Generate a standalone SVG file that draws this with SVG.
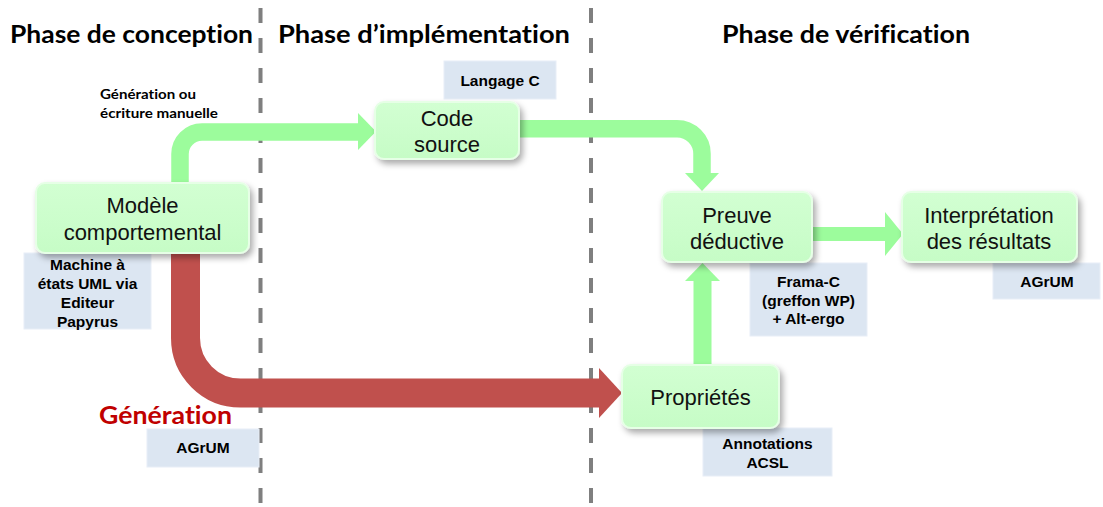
<svg xmlns="http://www.w3.org/2000/svg" width="1103" height="507" viewBox="0 0 1103 507">
  <defs>
    <filter id="shadow" x="-20%" y="-20%" width="150%" height="160%">
      <feDropShadow dx="3" dy="4" stdDeviation="3" flood-color="#000" flood-opacity="0.33"/>
    </filter>
    <linearGradient id="nodeGrad" x1="0" y1="0" x2="0" y2="1">
      <stop offset="0" stop-color="#d2ffd2"/>
      <stop offset="1" stop-color="#c6fcc6"/>
    </linearGradient>
  </defs>
  <style>
    text { font-variant-ligatures: none; font-feature-settings: "liga" 0; }
    .title { font-family: Lato, "Open Sans", sans-serif; font-weight: 700; font-size: 25px; fill: #000; }
    .divider { stroke: #7f7f7f; stroke-width: 4; stroke-dasharray: 15 15; fill: none; }
    .node rect { fill: url(#nodeGrad); stroke: #e6ffe6; stroke-width: 2; filter: url(#shadow); }
    .node text { font-family: "Liberation Sans", Arial, sans-serif; font-size: 22px; fill: #111; text-anchor: middle; }
    .tag rect { fill: #dce6f2; stroke: #e8eef7; stroke-width: 1; }
    .tag text { font-family: "Liberation Sans", Arial, sans-serif; font-weight: 700; font-size: 15.5px; fill: #000; text-anchor: middle; }
    .green { stroke: #9cfc9c; fill: none; }
    .greenHead { fill: #9cfc9c; }
    .red { stroke: #c0504d; fill: none; stroke-width: 29; }
    .redHead { fill: #c0504d; }
    .note { font-family: Lato, "Open Sans", sans-serif; font-weight: 700; font-size: 14px; fill: #000; }
    .gen { font-family: Lato, "Open Sans", sans-serif; font-weight: 700; font-size: 24px; fill: #c00000; }
  </style>

  <rect x="0" y="0" width="1103" height="507" fill="#ffffff"/>

  <!-- phase titles -->
  <g id="titles">
    <text class="title" x="10" y="43" textLength="243" lengthAdjust="spacingAndGlyphs">Phase de conception</text>
    <text class="title" x="278" y="43" textLength="292" lengthAdjust="spacingAndGlyphs">Phase d’implémentation</text>
    <text class="title" x="722" y="43" textLength="248" lengthAdjust="spacingAndGlyphs">Phase de vérification</text>
  </g>

  <!-- phase dividers -->
  <g id="dividers">
    <line class="divider" x1="260.5" y1="8" x2="260.5" y2="507"/>
    <line class="divider" x1="591" y1="8" x2="591" y2="507"/>
  </g>

  <!-- tool labels -->
  <g id="tag-machine" class="tag">
    <rect x="24" y="253" width="127" height="76"/>
    <text x="87.5" y="270">Machine à</text>
    <text x="87.5" y="289">états UML via</text>
    <text x="87.5" y="308">Editeur</text>
    <text x="87.5" y="327">Papyrus</text>
  </g>
  <g id="tag-langage" class="tag">
    <rect x="444" y="61" width="112" height="38"/>
    <text x="500" y="86">Langage C</text>
  </g>
  <g id="tag-frama" class="tag">
    <rect x="750" y="263" width="117" height="73"/>
    <text x="808.5" y="287">Frama-C</text>
    <text x="808.5" y="306">(greffon WP)</text>
    <text x="808.5" y="324">+ Alt-ergo</text>
  </g>
  <g id="tag-agrum-right" class="tag">
    <rect x="993" y="263" width="107" height="36"/>
    <text x="1047" y="287">AGrUM</text>
  </g>
  <g id="tag-agrum-left" class="tag">
    <rect x="147" y="429" width="112" height="38"/>
    <text x="203" y="453">AGrUM</text>
  </g>
  <g id="tag-annotations" class="tag">
    <rect x="703" y="428" width="129" height="48"/>
    <text x="767.5" y="449">Annotations</text>
    <text x="767.5" y="468">ACSL</text>
  </g>

  <!-- connectors -->
  <g id="connectors">
    <g id="edge-modele-code">
      <path class="green" stroke-width="17.5" d="M180,188 V154 A22,22 0 0 1 202,132 H359"/>
      <polygon class="greenHead" points="358,113 376,131.5 358,150"/>
    </g>
    <g id="edge-code-preuve">
      <path class="green" stroke-width="17.5" d="M515,128.7 H677 A25,25 0 0 1 702,153.7 V174"/>
      <polygon class="greenHead" points="685,173 719,173 702,191"/>
    </g>
    <g id="edge-preuve-interp">
      <path class="green" stroke-width="14" d="M810,234 H886"/>
      <polygon class="greenHead" points="885,212 903,234 885,256"/>
    </g>
    <g id="edge-prop-preuve">
      <path class="green" stroke-width="18" d="M702.5,368 V280"/>
      <polygon class="greenHead" points="685,281 720,281 702.5,263"/>
    </g>
    <g id="edge-modele-prop">
      <path class="red" d="M185.5,250 V338 A55,55 0 0 0 240.5,393 H601"/>
      <polygon class="redHead" points="599,368 622,393 599,418"/>
    </g>
    <text class="note" x="100" y="99" textLength="96" lengthAdjust="spacingAndGlyphs">Génération ou</text>
    <text class="note" x="100" y="118" textLength="118" lengthAdjust="spacingAndGlyphs">écriture manuelle</text>
    <text class="gen" x="99" y="424" textLength="133" lengthAdjust="spacingAndGlyphs">Génération</text>
  </g>

  <!-- nodes -->
  <g id="node-modele" class="node">
    <rect x="36" y="183" width="213" height="70" rx="9"/>
    <text x="142.5" y="213">Modèle</text>
    <text x="142.5" y="240">comportemental</text>
  </g>
  <g id="node-code" class="node">
    <rect x="375" y="102" width="144" height="57" rx="9"/>
    <text x="447" y="126">Code</text>
    <text x="447" y="152">source</text>
  </g>
  <g id="node-preuve" class="node">
    <rect x="662" y="192" width="150" height="70" rx="9"/>
    <text x="737" y="223">Preuve</text>
    <text x="737" y="249">déductive</text>
  </g>
  <g id="node-interp" class="node">
    <rect x="902" y="192" width="175" height="70" rx="9"/>
    <text x="989" y="223">Interprétation</text>
    <text x="989" y="249">des résultats</text>
  </g>
  <g id="node-proprietes" class="node">
    <rect x="622" y="365" width="157" height="63" rx="9"/>
    <text x="700.5" y="405">Propriétés</text>
  </g>
</svg>
